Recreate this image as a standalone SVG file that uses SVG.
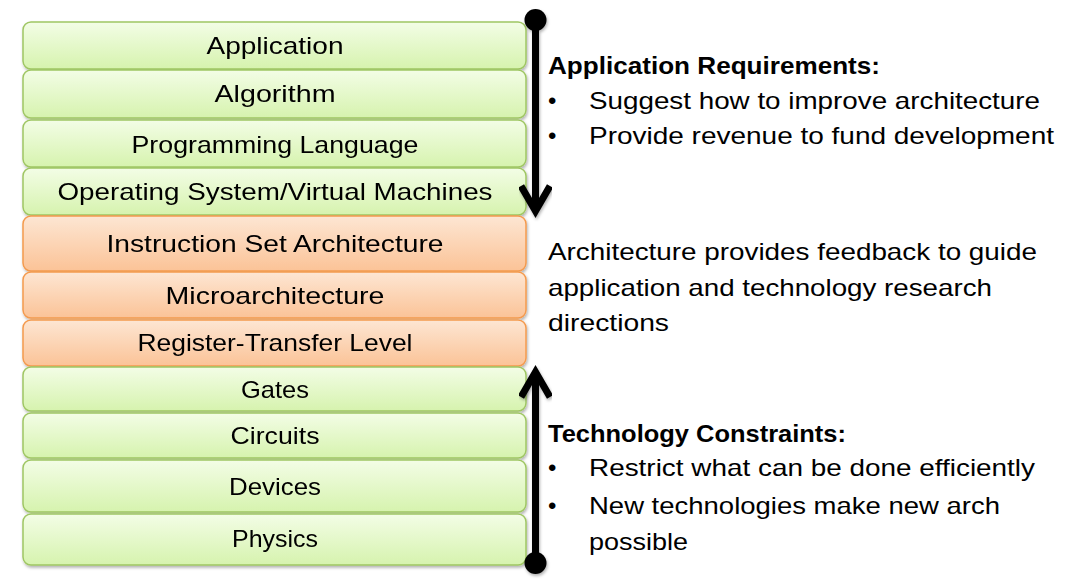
<svg xmlns="http://www.w3.org/2000/svg" width="1066" height="588" viewBox="0 0 1066 588">
<style>
.g{fill:url(#gg);stroke:#9fc663;stroke-width:1.5}
.o{fill:url(#og);stroke:#f49a4e;stroke-width:1.5}
.t{font-family:"Liberation Sans",Arial,sans-serif;font-size:24px;fill:#000;text-anchor:middle}
.r{font-family:"Liberation Sans",Arial,sans-serif;font-size:24px;fill:#000}
.b{font-weight:bold}
.ar{fill:none;stroke:#000;stroke-width:7}
</style>
<defs>
<linearGradient id="gg" x1="0" y1="0" x2="0" y2="1">
<stop offset="0" stop-color="#f3fde6"/>
<stop offset="1" stop-color="#d6f3ae"/>
</linearGradient>
<linearGradient id="og" x1="0" y1="0" x2="0" y2="1">
<stop offset="0" stop-color="#fde6d3"/>
<stop offset="1" stop-color="#fbc397"/>
</linearGradient>
<filter id="sh" x="-5%" y="-20%" width="110%" height="150%">
<feDropShadow dx="1" dy="2" stdDeviation="1.5" flood-color="#000" flood-opacity="0.3"/>
</filter>
</defs>
<g filter="url(#sh)">
<g id="n-application"><rect class="g" x="23" y="22" width="503" height="47" rx="8"/><text class="t" x="275" y="54" textLength="137" lengthAdjust="spacingAndGlyphs">Application</text></g>
<g id="n-algorithm"><rect class="g" x="23" y="70" width="503" height="48" rx="8"/><text class="t" x="275" y="102" textLength="121" lengthAdjust="spacingAndGlyphs">Algorithm</text></g>
<g id="n-proglang"><rect class="g" x="23" y="120" width="503" height="47" rx="8"/><text class="t" x="275" y="153" textLength="287" lengthAdjust="spacingAndGlyphs">Programming Language</text></g>
<g id="n-os"><rect class="g" x="23" y="168" width="503" height="47" rx="8"/><text class="t" x="275" y="200" textLength="435" lengthAdjust="spacingAndGlyphs">Operating System/Virtual Machines</text></g>
<g id="n-isa"><rect class="o" x="23" y="216" width="503" height="55" rx="8"/><text class="t" x="275" y="252" textLength="337" lengthAdjust="spacingAndGlyphs">Instruction Set Architecture</text></g>
<g id="n-micro"><rect class="o" x="23" y="272" width="503" height="46" rx="8"/><text class="t" x="275" y="304" textLength="219" lengthAdjust="spacingAndGlyphs">Microarchitecture</text></g>
<g id="n-rtl"><rect class="o" x="23" y="320" width="503" height="46" rx="8"/><text class="t" x="275" y="351" textLength="275" lengthAdjust="spacingAndGlyphs">Register-Transfer Level</text></g>
<g id="n-gates"><rect class="g" x="23" y="367" width="503" height="44" rx="8"/><text class="t" x="275" y="398" textLength="68" lengthAdjust="spacingAndGlyphs">Gates</text></g>
<g id="n-circuits"><rect class="g" x="23" y="413" width="503" height="45" rx="8"/><text class="t" x="275" y="444" textLength="89" lengthAdjust="spacingAndGlyphs">Circuits</text></g>
<g id="n-devices"><rect class="g" x="23" y="460" width="503" height="52" rx="8"/><text class="t" x="275" y="495" textLength="92" lengthAdjust="spacingAndGlyphs">Devices</text></g>
<g id="n-physics"><rect class="g" x="23" y="514" width="503" height="51" rx="8"/><text class="t" x="275" y="547" textLength="86" lengthAdjust="spacingAndGlyphs">Physics</text></g>
</g>
<g id="connectors" filter="url(#sh)">
<g id="arrow-down">
<circle cx="535.5" cy="20" r="11" fill="#000"/>
<line class="ar" x1="535.5" y1="20" x2="535.5" y2="210"/>
<polyline class="ar" points="521,186 535.5,211 550,186" stroke-linejoin="miter" stroke-miterlimit="10"/>
</g>
<g id="arrow-up">
<circle cx="535.5" cy="563" r="11" fill="#000"/>
<line class="ar" x1="535.5" y1="563" x2="535.5" y2="374"/>
<polyline class="ar" points="521,397 535.5,372 550,397" stroke-linejoin="miter" stroke-miterlimit="10"/>
</g>
</g>
<g id="app-req">
<text class="r b" x="548" y="74" textLength="332" lengthAdjust="spacingAndGlyphs">Application Requirements:</text>
<text class="r" x="548" y="109">•</text>
<text class="r" x="589" y="109" textLength="451" lengthAdjust="spacingAndGlyphs">Suggest how to improve architecture</text>
<text class="r" x="548" y="144">•</text>
<text class="r" x="589" y="144" textLength="465" lengthAdjust="spacingAndGlyphs">Provide revenue to fund development</text>
</g>
<g id="feedback">
<text class="r" x="548" y="260" textLength="489" lengthAdjust="spacingAndGlyphs">Architecture provides feedback to guide</text>
<text class="r" x="548" y="296" textLength="444" lengthAdjust="spacingAndGlyphs">application and technology research</text>
<text class="r" x="548" y="331" textLength="121" lengthAdjust="spacingAndGlyphs">directions</text>
</g>
<g id="tech-con">
<text class="r b" x="548" y="442" textLength="298" lengthAdjust="spacingAndGlyphs">Technology Constraints:</text>
<text class="r" x="548" y="476">•</text>
<text class="r" x="589" y="476" textLength="446" lengthAdjust="spacingAndGlyphs">Restrict what can be done efficiently</text>
<text class="r" x="548" y="514">•</text>
<text class="r" x="589" y="514" textLength="411" lengthAdjust="spacingAndGlyphs">New technologies make new arch</text>
<text class="r" x="589" y="550" textLength="99" lengthAdjust="spacingAndGlyphs">possible</text>
</g>
</svg>
